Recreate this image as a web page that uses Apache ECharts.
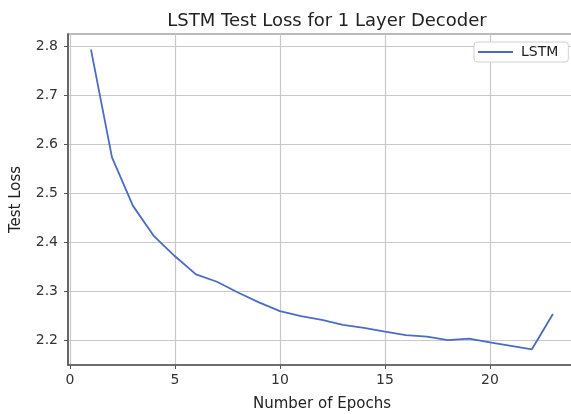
<!DOCTYPE html>
<html>
<head>
<meta charset="utf-8">
<script src="https://cdn.jsdelivr.net/npm/echarts@6/dist/echarts.min.js"></script>
<style>html,body{margin:0;padding:0;background:#fff;overflow:hidden;}#c{width:571px;height:414px;}</style>
</head>
<body>
<div id="c"></div>
<script>
const epochs = [1,2,3,4,5,6,7,8,9,10,11,12,13,14,15,16,17,18,19,20,21,22,23];
const lstmLoss = [2.793,2.573,2.474,2.412,2.371,2.334,2.319,2.297,2.277,2.259,2.249,2.241,2.231,2.225,2.217,2.210,2.207,2.200,2.203,2.195,2.188,2.181,2.253];
const xTicks = [0,5,10,15,20];
const yTicks = [2.2,2.3,2.4,2.5,2.6,2.7,2.8];

const font = 'DejaVu Sans';
const chart = echarts.init(document.getElementById('c'), null, {renderer:'canvas'});
chart.setOption({
  animation: false,
  backgroundColor: '#fff',
  title: {
    text: 'LSTM Test Loss for 1 Layer Decoder',
    left: 322, top: 7, textAlign: 'center',
    textStyle: {fontFamily: font, fontSize: 18, fontWeight: 'normal', color: '#222'}
  },
  legend: {
    data: ['LSTM'],
    left: 474, top: 42,
    icon: 'rect',
    itemWidth: 35, itemHeight: 2, itemGap: 10,
    padding: [3, 10, 3, 4],
    borderColor: '#d0d0d0', borderWidth: 1, borderRadius: 3,
    backgroundColor: '#fff',
    textStyle: {fontFamily: font, fontSize: 14, color: '#222', padding: [0,0,0,3]}
  },
  grid: {
    left: 68, top: 34, width: 508, height: 331,
    outerBoundsMode: 'none', containLabel: false,
    show: true, borderColor: '#777', borderWidth: 1.2, backgroundColor: '#fff'
  },
  xAxis: {
    type: 'value', min: -0.095, max: 24.1,
    name: 'Number of Epochs', nameLocation: 'middle', nameGap: 32,
    nameTextStyle: {fontFamily: font, fontSize: 15, color: '#222'},
    axisLine: {show: true, onZero: false, lineStyle: {color: '#555', width: 1.6}},
    axisTick: {show: true, length: 4, inside: false, customValues: xTicks, lineStyle: {color: '#555'}},
    axisLabel: {customValues: xTicks, fontFamily: font, fontSize: 14, color: '#333', margin: 8},
    splitLine: {show: true, lineStyle: {color: '#c8c8c8', width: 1.2}}
  },
  yAxis: {
    type: 'value', min: 2.149, max: 2.825,
    name: 'Test Loss', nameLocation: 'middle', nameGap: 44, nameRotate: 90,
    nameTextStyle: {fontFamily: font, fontSize: 15, color: '#222'},
    axisLine: {show: true, onZero: false, lineStyle: {color: '#555', width: 1.6}},
    axisTick: {show: true, length: 4, customValues: yTicks, lineStyle: {color: '#555'}},
    axisLabel: {customValues: yTicks, fontFamily: font, fontSize: 14, color: '#333', margin: 10,
      formatter: v => v.toFixed(1)},
    splitLine: {show: true, lineStyle: {color: '#c8c8c8', width: 1.2}}
  },
  series: [{
    name: 'LSTM', type: 'line',
    data: epochs.map((e, i) => [e, lstmLoss[i]]),
    symbol: 'none', showSymbol: false,
    lineStyle: {color: '#4c6cc0', width: 1.8},
    itemStyle: {color: '#4c6cc0'}
  }]
});
</script>
</body>
</html>
